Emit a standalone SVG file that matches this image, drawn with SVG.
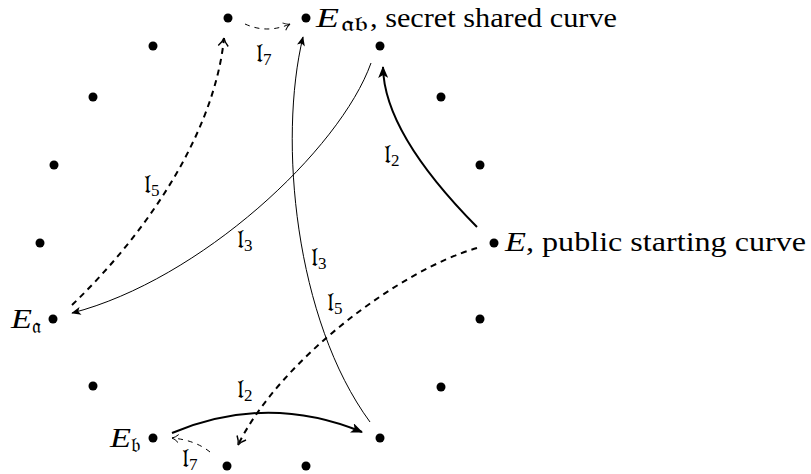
<svg xmlns="http://www.w3.org/2000/svg" width="811" height="474" viewBox="0 0 811 474">
<style>
.dot{fill:#000}
.t{font-family:"Liberation Serif","DejaVu Serif",serif;font-size:27px;fill:#000}
.e{font-family:"Liberation Serif","DejaVu Serif",serif;font-size:28px;font-style:italic;fill:#000}
.es{font-family:"Liberation Serif","DejaVu Serif",serif;font-size:21px;fill:#000}
.lab{font-family:"Liberation Serif","DejaVu Serif",serif;font-size:26px;fill:#000}
.sub{font-size:17px}
.thick{fill:none;stroke:#000;stroke-width:2}
.thin{fill:none;stroke:#000;stroke-width:1}
.dthick{fill:none;stroke:#000;stroke-width:2;stroke-dasharray:6 5}
.dthin{fill:none;stroke:#000;stroke-width:1;stroke-dasharray:5 5}
</style>
<defs>
<marker id="af" viewBox="0 0 12 10" refX="11" refY="5" markerWidth="12" markerHeight="10" markerUnits="userSpaceOnUse" orient="auto">
<path d="M0,0 L12,5 L0,10 L3,5 Z" fill="#000"/>
</marker>
<marker id="afs" viewBox="0 0 12 10" refX="11" refY="5" markerWidth="10" markerHeight="8" markerUnits="userSpaceOnUse" orient="auto">
<path d="M0,0 L12,5 L0,10 L3,5 Z" fill="#000"/>
</marker>
<marker id="ao" viewBox="0 0 10 12" refX="9" refY="6" markerWidth="10" markerHeight="12" markerUnits="userSpaceOnUse" orient="auto">
<path d="M1,1 Q5,5 9,6 Q5,7 1,11" fill="none" stroke="#000" stroke-width="1.5"/>
</marker>
<marker id="aos" viewBox="0 0 10 12" refX="9" refY="6" markerWidth="8" markerHeight="10" markerUnits="userSpaceOnUse" orient="auto">
<path d="M1,1 Q5,5 9,6 Q5,7 1,11" fill="none" stroke="#000" stroke-width="1.2"/>
</marker>
</defs>
<g id="connectors">
<path class="thick" d="M477,227 Q384,133 383,67" marker-end="url(#af)"/>
<path class="thin" d="M371,63 C340,150 200,280 72,313" marker-end="url(#afs)"/>
<path class="dthick" d="M477,248 C400,270 280,360 238,445" marker-end="url(#ao)"/>
<path class="dthick" d="M72,305 C150,230 215,130 224,38" marker-end="url(#ao)"/>
<path class="dthin" d="M245,24 Q267,34 290,24" marker-end="url(#aos)"/>
<path class="dthin" d="M210,452 Q195,440 172,438" marker-end="url(#aos)"/>
<path class="thick" d="M172,433 Q267,393 362,432" marker-end="url(#af)"/>
<path class="thin" d="M370,422 C295,320 278,140 303,37" marker-end="url(#afs)"/>
<g id="edge-labels">
<text class="lab" x="256" y="62">𝔩<tspan class="sub" dy="3">7</tspan></text>
<text class="lab" x="384" y="163">𝔩<tspan class="sub" dy="3">2</tspan></text>
<text class="lab" x="144" y="193">𝔩<tspan class="sub" dy="3">5</tspan></text>
<text class="lab" x="237" y="248">𝔩<tspan class="sub" dy="3">3</tspan></text>
<text class="lab" x="311" y="266">𝔩<tspan class="sub" dy="3">3</tspan></text>
<text class="lab" x="327" y="311">𝔩<tspan class="sub" dy="3">5</tspan></text>
<text class="lab" x="237" y="398">𝔩<tspan class="sub" dy="3">2</tspan></text>
<text class="lab" x="182" y="467">𝔩<tspan class="sub" dy="3">7</tspan></text>
</g>
</g>
<g id="n0"><circle class="dot" cx="494" cy="243" r="4.5"/><text class="e" x="505" y="251" textLength="21" lengthAdjust="spacingAndGlyphs">E</text><text class="t" x="526" y="251" textLength="280" lengthAdjust="spacingAndGlyphs">, public starting curve</text></g>
<g id="n1"><circle class="dot" cx="480" cy="165" r="4.5"/></g>
<g id="n2"><circle class="dot" cx="441" cy="97" r="4.5"/></g>
<g id="n3"><circle class="dot" cx="380" cy="46" r="4.5"/></g>
<g id="n4"><circle class="dot" cx="306" cy="18" r="4.5"/><text class="e" x="316" y="27" textLength="23" lengthAdjust="spacingAndGlyphs">E</text><text class="es" x="341" y="31" textLength="28" lengthAdjust="spacingAndGlyphs">𝔞𝔟</text><text class="t" x="370" y="27" textLength="247" lengthAdjust="spacingAndGlyphs">, secret shared curve</text></g>
<g id="n5"><circle class="dot" cx="228" cy="18" r="4.5"/></g>
<g id="n6"><circle class="dot" cx="153" cy="46" r="4.5"/></g>
<g id="n7"><circle class="dot" cx="93" cy="97" r="4.5"/></g>
<g id="n8"><circle class="dot" cx="54" cy="165" r="4.5"/></g>
<g id="n9"><circle class="dot" cx="40" cy="243" r="4.5"/></g>
<g id="n10"><circle class="dot" cx="53" cy="319" r="4.5"/><text class="e" x="11" y="328" textLength="21" lengthAdjust="spacingAndGlyphs">E</text><text class="es" x="32" y="333">𝔞</text></g>
<g id="n11"><circle class="dot" cx="93" cy="386" r="4.5"/></g>
<g id="n12"><circle class="dot" cx="153" cy="438" r="4.5"/><text class="e" x="110" y="447" textLength="21" lengthAdjust="spacingAndGlyphs">E</text><text class="es" x="131" y="452">𝔟</text></g>
<g id="n13"><circle class="dot" cx="227" cy="466" r="4.5"/></g>
<g id="n14"><circle class="dot" cx="306" cy="466" r="4.5"/></g>
<g id="n15"><circle class="dot" cx="380" cy="438" r="4.5"/></g>
<g id="n16"><circle class="dot" cx="441" cy="387" r="4.5"/></g>
<g id="n17"><circle class="dot" cx="480" cy="319" r="4.5"/></g>
</svg>
